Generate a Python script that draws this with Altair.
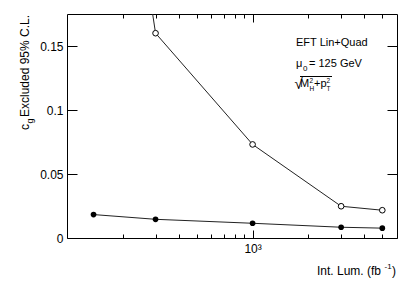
import altair as alt
import pandas as pd

FONT = "Liberation Sans"

# ---- data ----
lumi = [139, 300, 1000, 3000, 5000]
cg_open = [0.48, 0.160, 0.0731, 0.0248, 0.0217]
cg_filled = [0.0183, 0.0146, 0.0115, 0.0084, 0.0077]

x_major_ticks = [1000]
x_major_labels = ["10³"]
x_minor_ticks = [200, 300, 400, 500, 600, 700, 800, 900, 2000, 3000, 4000, 5000]
y_ticks = [0, 0.05, 0.1, 0.15]

y_title = ["c", "g", "Excluded 95% C.L."]
x_title = ["Int. Lum. (fb", "-1", ")"]
note1 = "EFT Lin+Quad"
note2 = ["μ", "0", "= 125 GeV"]
note3 = ["√", "M", "2", "H", "+p", "2", "T"]

df_f = pd.DataFrame({"lumi": lumi, "cg": cg_filled})
df_o = pd.DataFrame({"lumi": lumi, "cg": cg_open})

xscale = alt.Scale(type="log", domain=[100, 6000], nice=False)
yscale = alt.Scale(domain=[0, 0.175], nice=False, zero=False)

common = dict(domain=False, grid=False, tickColor="#000", tickWidth=1, title=None,
              labelFont=FONT, labelColor="#000", labelFontSize=12)

ax_xb_major = alt.Axis(orient="bottom", values=x_major_ticks, tickSize=8, offset=-8,
                       labelExpr="'" + x_major_labels[0] + "'", labelPadding=5,
                       labelFlush=False, **common)
ax_xb_minor = alt.Axis(orient="bottom", values=x_minor_ticks, tickSize=4, offset=-4,
                       labels=False, **common)
ax_xt_major = alt.Axis(orient="top", values=x_major_ticks, tickSize=8, offset=-8,
                       labels=False, **common)
ax_xt_minor = alt.Axis(orient="top", values=x_minor_ticks, tickSize=4, offset=-4,
                       labels=False, **common)
ax_yl = alt.Axis(orient="left", values=y_ticks, tickSize=10, offset=-10, format=".2~f",
                 labelPadding=4, labelFlush=False, **common)
ax_yr = alt.Axis(orient="right", values=y_ticks, tickSize=10, offset=-10, labels=False,
                 **common)

line_f = alt.Chart(df_f).mark_line(color="#222", strokeWidth=1, clip=True).encode(
    x=alt.X("lumi:Q", scale=xscale, axis=ax_xb_major),
    y=alt.Y("cg:Q", scale=yscale, axis=ax_yl),
)
line_o = alt.Chart(df_o).mark_line(color="#222", strokeWidth=1, clip=True).encode(
    x=alt.X("lumi:Q", scale=xscale, axis=ax_xb_minor),
    y=alt.Y("cg:Q", scale=yscale, axis=ax_yr),
)
pts_f = alt.Chart(df_f).mark_point(filled=True, color="#000", size=32, opacity=1,
                                   clip=True).encode(
    x=alt.X("lumi:Q", scale=xscale, axis=ax_xt_major),
    y=alt.Y("cg:Q", scale=yscale, axis=None),
)
pts_o = alt.Chart(df_o).mark_point(filled=False, color="#000", size=32, strokeWidth=1,
                                   fill="white", fillOpacity=1, opacity=1,
                                   clip=True).encode(
    x=alt.X("lumi:Q", scale=xscale, axis=ax_xt_minor),
    y=alt.Y("cg:Q", scale=yscale, axis=None),
)


def txt(label, x, y, size=11, align="left", baseline="alphabetic", angle=None):
    mk = dict(align=align, baseline=baseline, fontSize=size, font=FONT, color="#000")
    if angle is not None:
        mk["angle"] = angle
    return alt.Chart(pd.DataFrame({"label": [label]})).mark_text(**mk).encode(
        x=alt.value(x), y=alt.value(y), text="label:N")


texts = [
    # y title
    txt(y_title[0], -38, 116, size=12, angle=270),
    txt(y_title[1], -34.5, 109.5, size=9, angle=270),
    txt(y_title[2], -38, 103, size=12, angle=270),
    # x title
    txt(x_title[0], 314, 261, size=12, align="right"),
    txt(x_title[1], 317.5, 255, size=8),
    txt(x_title[2], 325, 261, size=12),
    # annotations
    txt(note1, 229, 32),
    txt(note2[0], 229, 53),
    txt(note2[1], 236, 57, size=8),
    txt(note2[2], 242, 53),
    txt(note3[0], 227.5, 74.5, size=15),
    txt(note3[1], 233, 73),
    txt(note3[2], 242.5, 68.5, size=6.5),
    txt(note3[3], 242.5, 76.5, size=6.5),
    txt(note3[4], 247, 73),
    txt(note3[5], 259.5, 68.5, size=6.5),
    txt(note3[6], 259.5, 76.5, size=6.5),
]

overbar = alt.Chart(pd.DataFrame({"a": [0]})).mark_rule(color="#000", strokeWidth=1).encode(
    x=alt.value(233), x2=alt.value(265), y=alt.value(62.5))

chart = alt.layer(line_f, line_o, pts_f, pts_o, overbar, *texts).resolve_axis(
    x="independent", y="independent"
).properties(
    width=330, height=224,
    autosize=alt.AutoSizeParams(type="none"),
    padding={"left": 59, "top": 6, "right": 12, "bottom": 40},
).configure_view(stroke="#000", strokeWidth=1)

chart.save("out.html", embed_options={"renderer": "svg", "actions": False})
